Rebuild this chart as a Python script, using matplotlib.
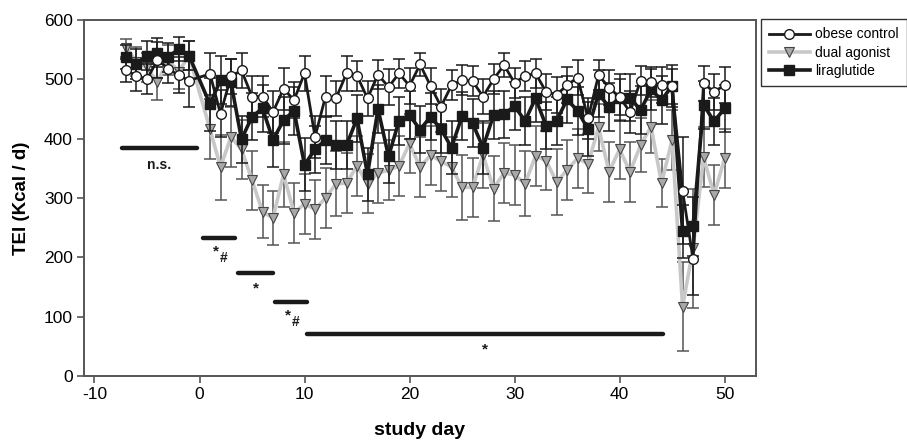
import matplotlib
matplotlib.use("Agg")
import matplotlib.pyplot as plt

plt.rcParams['font.family'] = ['Liberation Sans', 'DejaVu Sans']
plt.rcParams['axes.unicode_minus'] = False

# study days (no measurement on day 0)
days = [-7, -6, -5, -4, -3, -2, -1] + list(range(1, 51))

obese = [515, 506, 500, 533, 518, 507, 498,
         509, 442, 505, 515, 471, 471, 445, 484, 465, 510,
         403, 471, 468, 510, 506, 468, 508, 487, 510, 489,
         525, 489, 454, 490, 499, 497, 471, 500, 524, 494,
         506, 510, 479, 474, 490, 503, 434, 507, 486, 470,
         445, 498, 496, 490, 488, 312, 197, 493, 479, 490]
obese_err = [20, 25, 25, 30, 25, 30, 45,
             35, 40, 30, 30, 35, 35, 35, 35, 30, 30,
             35, 35, 30, 30, 25, 30, 25, 30, 25, 30,
             20, 30, 30, 25, 25, 25, 30, 25, 20, 25,
             25, 25, 30, 30, 30, 30, 35, 25, 30, 30,
             35, 25, 25, 30, 30, 90, 60, 30, 30, 30]

lira = [538, 526, 540, 545, 537, 551, 540,
        458, 499, 495, 399, 437, 451, 398, 431, 447, 356,
        382, 398, 389, 389, 434, 340, 450, 370, 430, 440,
        415, 437, 416, 385, 438, 426, 385, 440, 441, 455,
        430, 468, 422, 430, 466, 447, 416, 476, 453, 469,
        469, 448, 483, 465, 489, 244, 252, 457, 429, 451]
lira_err = [20, 25, 25, 25, 25, 20, 25,
            45, 40, 40, 40, 40, 40, 45, 40, 40, 45,
            40, 40, 40, 40, 40, 45, 40, 45, 40, 40,
            40, 40, 40, 45, 40, 40, 45, 40, 40, 40,
            40, 40, 40, 40, 40, 40, 45, 40, 40, 40,
            40, 40, 35, 40, 35, 45, 50, 40, 40, 40]

dual = [553, 530, 520, 495, 533, 513, 540,
        416, 352, 403, 382, 330, 277, 266, 340, 275, 290,
        281, 300, 324, 325, 354, 324, 342, 347, 354, 392,
        352, 372, 362, 352, 318, 318, 372, 316, 342, 339,
        324, 371, 363, 327, 347, 367, 358, 419, 344, 382,
        344, 389, 420, 325, 398, 117, 215, 369, 305, 367]
dual_err = [15, 25, 25, 30, 25, 30, 25,
            50, 55, 50, 50, 50, 45, 45, 55, 50, 50,
            50, 50, 55, 50, 50, 50, 50, 50, 50, 50,
            50, 50, 50, 50, 55, 50, 55, 55, 50, 50,
            55, 50, 50, 55, 50, 50, 50, 40, 50, 50,
            50, 45, 45, 40, 50, 75, 100, 50, 50, 50]

# significance bars: start day, end day, level, label
sig_start = [-7.4, 0.3, 3.7, 7.2, 10.25]
sig_end = [-0.2, 3.4, 7.0, 10.25, 44.1]
sig_y = [385, 232, 174, 124, 70]
sig_label = ['n.s.', '*#', '*', '*#', '*']

fig = plt.figure(figsize=(9.07, 4.43), dpi=100)
ax = fig.add_axes([0.0926, 0.1512, 0.741, 0.8037])

gray_line = '#c8c8c8'
gray_fill = '#a8a8a8'
dark = '#1a1a1a'

# dual agonist (behind)
ax.errorbar(days, dual, yerr=dual_err, fmt='none', ecolor='#555555',
            elinewidth=1.1, capsize=4, capthick=1.1, zorder=1)
l_dual, = ax.plot(days, dual, color=gray_line, lw=2.6, marker='v', ms=7.5,
                  mfc=gray_fill, mec='#444444', mew=0.8, zorder=2,
                  label='dual agonist')

# liraglutide
ax.errorbar(days, lira, yerr=lira_err, fmt='none', ecolor=dark,
            elinewidth=1.1, capsize=4, capthick=1.1, zorder=3)
l_lira, = ax.plot(days, lira, color=dark, lw=2.6, marker='s', ms=6.5,
                  mfc=dark, mec=dark, zorder=4, label='liraglutide')

# obese control
ax.errorbar(days, obese, yerr=obese_err, fmt='none', ecolor=dark,
            elinewidth=1.1, capsize=4, capthick=1.1, zorder=5)
l_obese, = ax.plot(days, obese, color=dark, lw=2.0, marker='o', ms=7,
                   mfc='white', mec=dark, mew=1.0, zorder=6,
                   label='obese control')

# significance bars and labels
for x0, x1, y, lab in zip(sig_start, sig_end, sig_y, sig_label):
    ax.plot([x0, x1], [y, y], color=dark, lw=3.2, solid_capstyle='round',
            zorder=7)
    xm = (x0 + x1) / 2
    if lab == 'n.s.':
        ax.text(xm, y - 30, lab, ha='center', va='center', fontsize=10,
                fontweight='bold', color=dark)
    elif lab == '*#':
        ax.text(xm - 0.3, y - 22, '*', ha='center', va='center',
                fontsize=11, fontweight='bold', color=dark)
        ax.text(xm + 0.4, y - 33, '#', ha='center', va='center',
                fontsize=10, fontweight='bold', color=dark)
    else:
        ax.text(xm, y - 26, '*', ha='center', va='center', fontsize=11,
                fontweight='bold', color=dark)

ax.set_xlim(-11, 53)
ax.set_ylim(0, 600)
ax.set_xticks(range(-10, 51, 10))
ax.set_yticks(range(0, 601, 100))
ax.tick_params(labelsize=12.5, length=5, width=1.2, color='#555555',
               top=False, right=False, pad=3)
for s in ax.spines.values():
    s.set_color('#555555')
    s.set_linewidth(1.4)

ax.set_xlabel('study day', fontsize=14, fontweight='bold', labelpad=14)
ax.set_ylabel('TEI (Kcal / d)', fontsize=13.5, fontweight='bold', labelpad=10)

leg = fig.legend(handles=[l_obese, l_dual, l_lira], loc='upper left',
                 bbox_to_anchor=(0.839, 0.957), fontsize=10, frameon=True,
                 fancybox=False, edgecolor='black', handlelength=2.9,
                 handletextpad=0.4, borderpad=0.6, labelspacing=0.3,
                 borderaxespad=0)
leg.get_frame().set_linewidth(1.0)

fig.savefig('out.png', dpi=100)
